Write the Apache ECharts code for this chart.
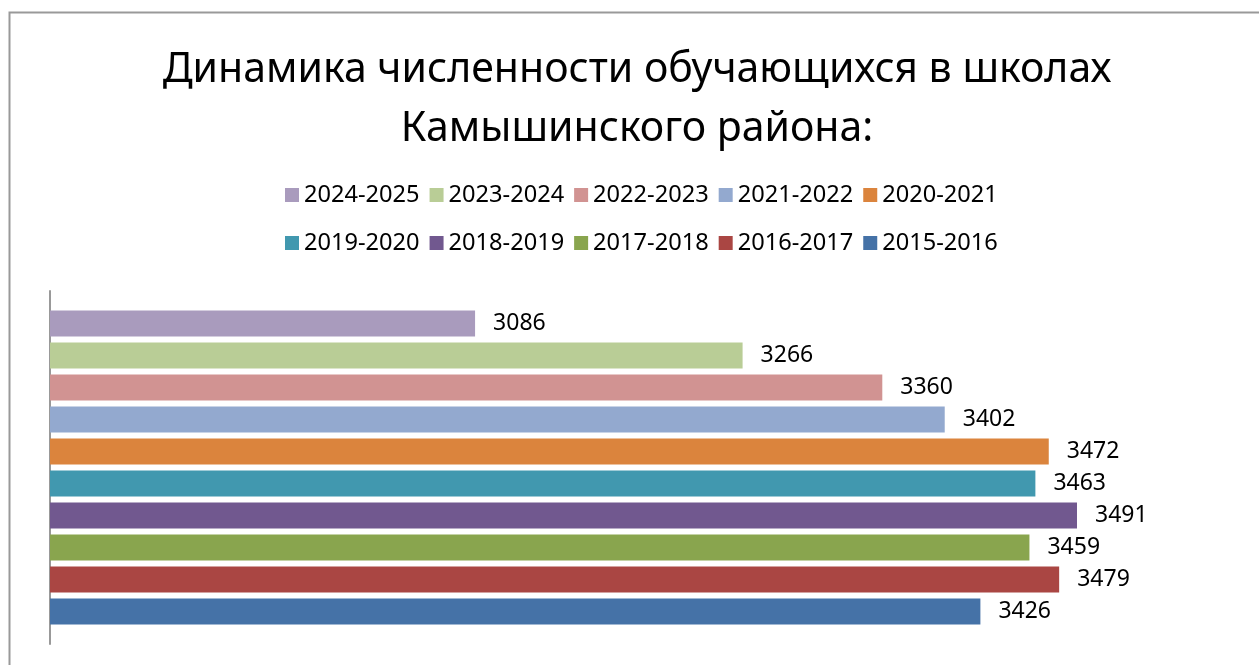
<!DOCTYPE html>
<html>
<head>
<meta charset="utf-8">
<script src="https://cdn.jsdelivr.net/npm/echarts@6/dist/echarts.min.js"></script>
<style>
  html, body { margin: 0; padding: 0; background: #fff; }
  #main { width: 1259px; height: 665px; }
</style>
</head>
<body>
<div id="main"></div>
<script>
// учебные годы (первая серия — нижний столбик)
var years = ["2015-2016", "2016-2017", "2017-2018", "2018-2019", "2019-2020",
  "2020-2021", "2021-2022", "2022-2023", "2023-2024", "2024-2025"];
// численность обучающихся
var pupils = [3426, 3479, 3459, 3491, 3463, 3472, 3402, 3360, 3266, 3086];
var colors = ["#4572A7", "#AA4643", "#89A54E", "#71588F", "#4198AF",
  "#DB843D", "#93A9CF", "#D19392", "#B9CD96", "#A99BBD"];
var category = ["Камышинский район"];

(function () {
  var myChart = echarts.init(document.getElementById("main"));
  var font = "Noto Sans";
  var legendOrder = years.slice().reverse();

  // в ECharts первая серия рисуется сверху, поэтому идём с конца
  var series = [];
  for (var i = years.length - 1; i >= 0; i--) {
    series.push({
      name: years[i],
      type: "bar",
      data: [pupils[i]],
      itemStyle: { color: colors[i] },
      barGap: "23%",
      barCategoryGap: "11%",
      label: {
        show: true,
        position: "right",
        distance: 18,
        color: "#000",
        fontFamily: font,
        fontSize: 23
      }
    });
  }

  var legendCommon = {
    left: 280,
    icon: "rect",
    itemWidth: 14,
    itemHeight: 14,
    itemGap: 10,
    textStyle: { color: "#000", fontFamily: font, fontSize: 23.6 }
  };

  var option = {
    animation: false,
    title: {
      text: "Динамика численности обучающихся в школах\nКамышинского района:",
      left: 632,
      textAlign: "center",
      top: 36,
      textStyle: {
        color: "#000",
        fontFamily: font,
        fontWeight: "normal",
        fontSize: 41,
        lineHeight: 59
      }
    },
    legend: [
      Object.assign({ top: 178, data: legendOrder.slice(0, 5) }, legendCommon),
      Object.assign({ top: 226, data: legendOrder.slice(5) }, legendCommon)
    ],
    grid: { left: 50, right: 20, top: 291, bottom: 21, containLabel: false },
    xAxis: {
      type: "value",
      min: 2800,
      max: 3600,
      show: false
    },
    yAxis: {
      type: "category",
      data: category,
      axisLine: { show: true, lineStyle: { color: "#999", width: 2 } },
      axisTick: { show: false },
      axisLabel: { show: false }
    },
    graphic: [
      {
        type: "rect",
        shape: { x: 9.5, y: 12.5, width: 1300, height: 700 },
        style: { fill: null, stroke: "#999", lineWidth: 2 },
        silent: true
      }
    ],
    series: series
  };

  myChart.setOption(option);
  window.addEventListener("resize", function () {
    myChart.resize();
  });
})();
</script>
</body>
</html>
